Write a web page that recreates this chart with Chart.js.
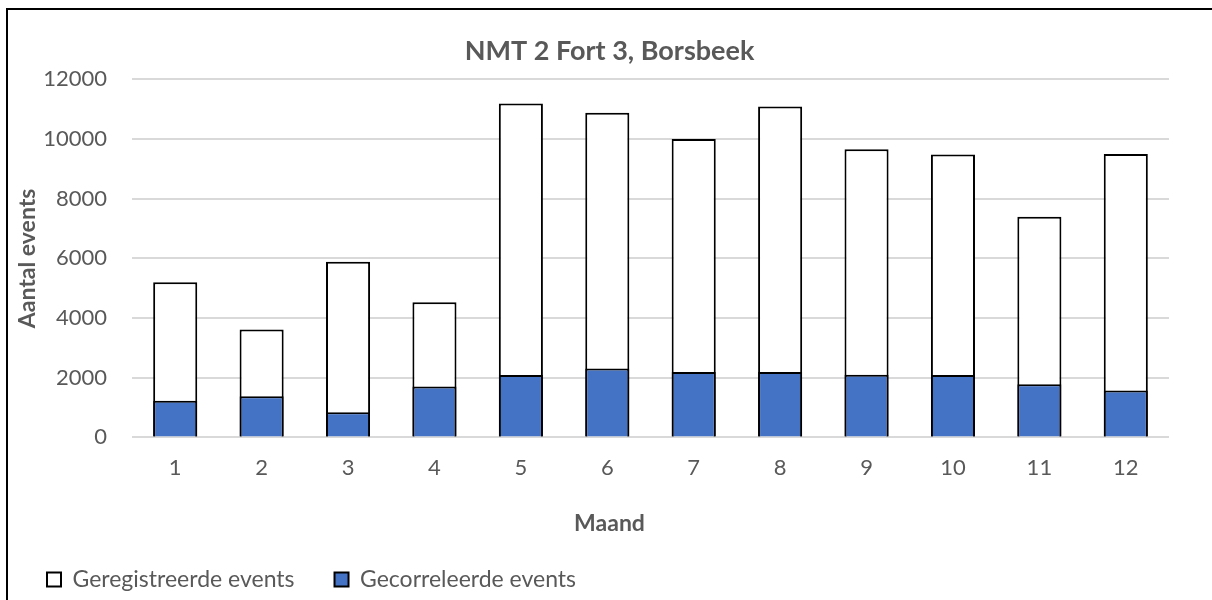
<!DOCTYPE html>
<html>
<head>
<meta charset="utf-8">
<title>NMT 2 Fort 3, Borsbeek</title>
<script src="https://cdn.jsdelivr.net/npm/chart.js@4.4.1/dist/chart.umd.min.js"></script>
<style>
    html, body { margin: 0; padding: 0; background: #ffffff; }
    #wrap { position: relative; width: 1212px; height: 600px; overflow: hidden; }
    #frame {
        position: absolute; left: 6px; top: 8px; width: 1300px; height: 700px;
        border-left: 2px solid #000; border-top: 2px solid #000;
    }
    #BarChart { position: absolute; left: 0; top: 0; }
</style>
</head>
<body>
<div id="wrap">
    <div id="frame"></div>
    <canvas id="BarChart" width="1212" height="600"></canvas>
</div>
<script>
// Data
const months = ["1", "2", "3", "4", "5", "6", "7", "8", "9", "10", "11", "12"];
const registered = [5200, 3620, 5890, 4530, 11190, 10880, 10000, 11090, 9660, 9480, 7400, 9500];
const correlated = [1230, 1380, 840, 1710, 2090, 2310, 2190, 2190, 2100, 2090, 1780, 1570];
const yTicks = [0, 2000, 4000, 6000, 8000, 10000, 12000];

(function () {
    "use strict";

    const text_gray = "#595959";
    const bar_blue = "#4472C4";
    const grid_gray = "#d9d9d9";

    Chart.defaults.font.family = "Lato";
    Chart.defaults.color = text_gray;

    const chart_bar = document.getElementById("BarChart");
    const ctx = chart_bar.getContext("2d");
    new Chart(ctx, {
        type: "bar",
        data: {
            labels: months,
            datasets: [
                {
                    label: "Geregistreerde events",
                    data: registered,
                    backgroundColor: "#ffffff",
                    borderColor: "#000000",
                    borderWidth: 2,
                    barPercentage: 0.51,
                    categoryPercentage: 1,
                    order: 1,
                },
                {
                    label: "Gecorreleerde events",
                    data: correlated,
                    backgroundColor: bar_blue,
                    borderColor: "#000000",
                    borderWidth: 2,
                    barPercentage: 0.51,
                    categoryPercentage: 1,
                    order: 0,
                },
            ],
        },
        options: {
            responsive: false,
            animation: false,
            layout: {
                padding: { left: 7, right: 0, top: 0, bottom: 8 },
            },
            scales: {
                x: {
                    stacked: true,
                    grid: { display: false, drawTicks: false },
                    border: { display: false },
                    ticks: {
                        padding: 17,
                        font: { size: 22 },
                        color: text_gray,
                    },
                    afterFit: function (s) { s.height = 72; },
                },
                y: {
                    stacked: false,
                    min: 0,
                    max: 12000,
                    grid: { color: grid_gray, lineWidth: 2, drawTicks: false },
                    border: { display: false },
                    ticks: {
                        padding: 25,
                        font: { size: 22 },
                        color: text_gray,
                        callback: function (v) { return String(v); },
                    },
                    afterBuildTicks: function (s) {
                        s.ticks = yTicks.map(function (v) { return { value: v }; });
                    },
                    title: {
                        display: true,
                        text: "Aantal events",
                        font: { size: 23, weight: "bold" },
                        color: text_gray,
                        padding: { top: 7, bottom: 0 },
                    },
                    afterFit: function (s) { s.width = 125; },
                },
                // empty right gutter so the titles centre on the whole chart
                yRight: {
                    position: "right",
                    grid: { display: false, drawTicks: false },
                    border: { display: false },
                    ticks: { display: false },
                    afterFit: function (s) { s.width = 43; },
                },
            },
            plugins: {
                title: {
                    display: true,
                    text: "NMT 2 Fort 3, Borsbeek",
                    font: { size: 27, weight: "bold" },
                    color: text_gray,
                    padding: { top: 35, bottom: 12 },
                },
                subtitle: {
                    display: true,
                    position: "bottom",
                    weight: 500,
                    text: "Maand",
                    font: { size: 23, weight: "bold" },
                    color: text_gray,
                    padding: { top: 0, bottom: -9 },
                },
                legend: {
                    display: true,
                    position: "bottom",
                    align: "start",
                    maxHeight: 64,
                    labels: {
                        boxWidth: 14,
                        boxHeight: 14,
                        padding: 40,
                        font: { size: 23 },
                        color: text_gray,
                        sort: function (a, b) { return a.datasetIndex - b.datasetIndex; },
                    },
                },
                tooltip: { enabled: false },
            },
        },
    });
})();
</script>
</body>
</html>
